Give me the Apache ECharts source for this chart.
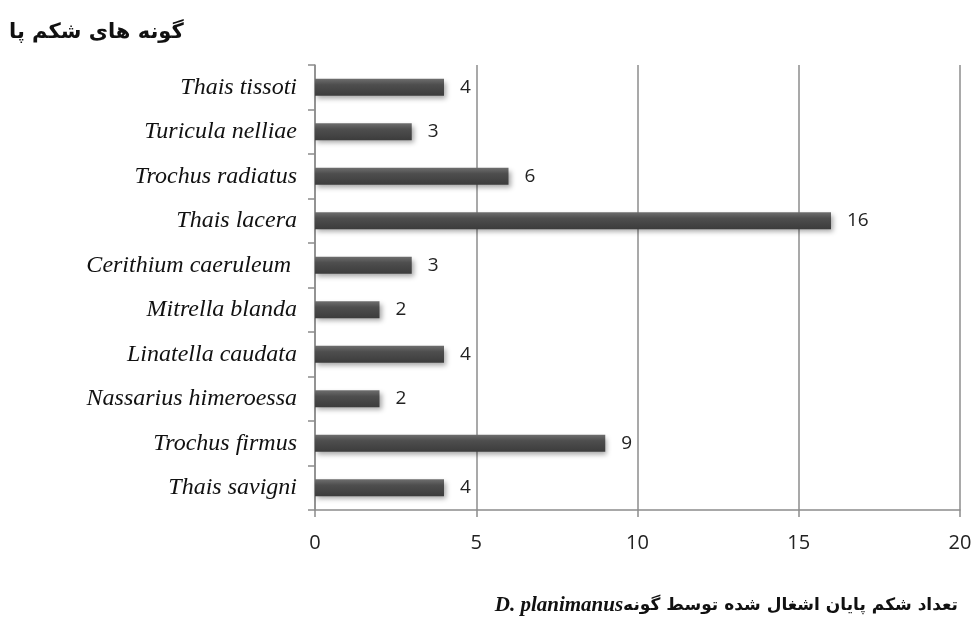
<!DOCTYPE html>
<html>
<head>
<meta charset="utf-8">
<script src="https://cdn.jsdelivr.net/npm/echarts@6/dist/echarts.min.js"></script>
<style>
  html, body { margin: 0; padding: 0; background: #fff; }
  #chart { width: 978px; height: 623px; }
</style>
</head>
<body>
<div id="chart"></div>
<script>
// Gastropod species (bottom to top) and shell counts
const species = [
  'Thais savigni',
  'Trochus firmus',
  'Nassarius himeroessa',
  'Linatella caudata',
  'Mitrella blanda',
  'Cerithium caeruleum ',
  'Thais lacera',
  'Trochus radiatus',
  'Turicula nelliae',
  'Thais tissoti'
];
const shellCounts = [4, 9, 2, 4, 2, 3, 16, 6, 3, 4];
const xTicks = [0, 5, 10, 15, 20];

const yTitle = 'گونه های شکم پا';
const xTitleFa = 'تعداد شکم پایان اشغال شده توسط گونه';
const xTitleLatin = 'D. planimanus';

const chart = echarts.init(document.getElementById('chart'));

chart.setOption({
  animation: false,
  backgroundColor: '#ffffff',
  grid: { left: 315, right: 18, top: 65, bottom: 113, containLabel: false },
  title: [
    {
      text: yTitle,
      left: 4,
      top: 17,
      textStyle: { fontFamily: 'DejaVu Sans', fontWeight: 'bold', fontSize: 21, color: '#111' }
    },
    {
      text: '{lat|' + xTitleLatin + '}{fa|' + xTitleFa + '}',
      right: 15,
      top: 590,
      textStyle: {
        rich: {
          lat: { fontFamily: 'Liberation Serif', fontStyle: 'italic', fontWeight: 'bold', fontSize: 21, color: '#111' },
          fa: { fontFamily: 'DejaVu Sans', fontWeight: 'bold', fontSize: 17, color: '#111' }
        }
      }
    }
  ],
  xAxis: {
    type: 'value',
    min: xTicks[0],
    max: xTicks[xTicks.length - 1],
    interval: xTicks[1] - xTicks[0],
    axisLine: { show: true, lineStyle: { color: '#8c8c8c', width: 1.5 } },
    axisTick: { show: true, length: 7, lineStyle: { color: '#8c8c8c', width: 1.5 } },
    splitLine: { show: true, lineStyle: { color: '#8c8c8c', width: 1.5 } },
    axisLabel: {
      margin: 23,
      fontFamily: 'Open Sans',
      fontSize: 20,
      color: '#222'
    }
  },
  yAxis: {
    type: 'category',
    data: species,
    axisLine: { show: true, lineStyle: { color: '#8c8c8c', width: 1.5 } },
    axisTick: { show: true, length: 7, lineStyle: { color: '#8c8c8c', width: 1.5 } },
    axisLabel: {
      margin: 18,
      fontFamily: 'Liberation Serif',
      fontStyle: 'italic',
      fontSize: 24,
      color: '#111'
    }
  },
  series: [{
    type: 'bar',
    data: shellCounts,
    barWidth: 17,
    itemStyle: {
      color: new echarts.graphic.LinearGradient(0, 0, 0, 1, [
        { offset: 0, color: '#6e6e6e' },
        { offset: 0.35, color: '#4e4e4e' },
        { offset: 1, color: '#3c3c3c' }
      ]),
      shadowColor: 'rgba(0,0,0,0.35)',
      shadowBlur: 5,
      shadowOffsetX: 2,
      shadowOffsetY: 3
    },
    label: {
      show: true,
      position: 'right',
      distance: 16,
      fontFamily: 'Open Sans',
      fontSize: 19,
      color: '#222'
    }
  }]
});
</script>
</body>
</html>
